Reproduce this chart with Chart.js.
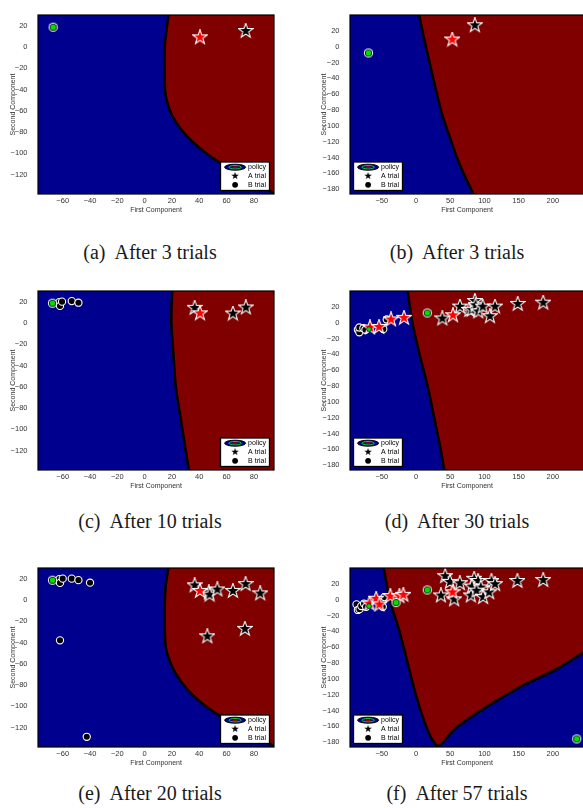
<!DOCTYPE html>
<html lang="en">
<head>
<meta charset="UTF-8">
<meta name="viewport" content="width=device-width, initial-scale=1.0">
<title>Decision regions after A/B trials</title>
<script src="https://cdn.jsdelivr.net/npm/chart.js"></script>
<style>
    body { margin: 0; background: #fff; }
    #fig { position: relative; width: 583px; height: 808px; overflow: hidden; }
    #fig canvas { position: absolute; }
    .cap {
        position: absolute;
        width: 290px;
        text-align: center;
        font-family: "Liberation Serif", "Times New Roman", serif;
        font-size: 20px;
        line-height: 20px;
        color: #1a1a1a;
    }
    .cap span { margin-right: 9px; }
</style>
</head>
<body>
<div id="fig">
    <canvas id="pa" width="290" height="218" style="left:0;top:0"></canvas>
    <canvas id="pb" width="300" height="218" style="left:290px;top:0"></canvas>
    <canvas id="pc" width="290" height="218" style="left:0;top:276px"></canvas>
    <canvas id="pd" width="300" height="218" style="left:290px;top:276px"></canvas>
    <canvas id="pe" width="290" height="218" style="left:0;top:553px"></canvas>
    <canvas id="pf" width="300" height="218" style="left:290px;top:553px"></canvas>
    <div class="cap" style="left:5px;top:242px"><span>(a)</span>After 3 trials</div>
    <div class="cap" style="left:312px;top:242px"><span>(b)</span>After 3 trials</div>
    <div class="cap" style="left:5px;top:511px"><span>(c)</span>After 10 trials</div>
    <div class="cap" style="left:312px;top:511px"><span>(d)</span>After 30 trials</div>
    <div class="cap" style="left:5px;top:783px"><span>(e)</span>After 20 trials</div>
    <div class="cap" style="left:312px;top:783px"><span>(f)</span>After 57 trials</div>
</div>

<script>
    // tick values
    const xTicksNarrow = [-60, -40, -20, 0, 20, 40, 60, 80];
    const yTicksNarrow = [-120, -100, -80, -60, -40, -20, 0, 20];
    const xTicksWide = [-50, 0, 50, 100, 150, 200];
    const yTicksWide = [-180, -160, -140, -120, -100, -80, -60, -40, -20, 0, 20];
    const legendLabels = ['policy', 'A trial', 'B trial'];

    // (a) after 3 trials, first projection
    const aEdge = [[17.8, 33], [16.1, 17.3], [14.6, -1], [14.9, -40.5], [16.6, -52.6], [20.2, -64.7], [26.3, -76.9],
                   [33.6, -87.5], [43.4, -98.2], [53.2, -107.3], [65.3, -116.4], [80, -127], [95, -137.6], [100, -141]];
    const aGreen = [[-67, 18.5]];
    const aRed = [[40.5, 9]];
    const aStars = [[74, 15]];
    const aDots = [];

    // (b) after 3 trials, second projection
    const bEdge = [[4.3, 43], [4.8, 39], [9.7, 18.4], [19.4, -18.4], [29.2, -55.1], [38.8, -87.6], [48.5, -112.1],
                   [58.3, -136.6], [67.9, -157], [83.5, -185.6], [86, -190]];
    const bGreen = [[-69.5, -8]];
    const bRed = [[53, 9]];
    const bStars = [[86, 27]];
    const bDots = [];

    // (c) after 10 trials
    const cEdge = [[20.2, 33], [19.5, 1.5], [21, -28.8], [22.7, -59.1], [26.3, -89.5], [30, -119.7], [32.4, -138.2], [33, -141]];
    const cGreen = [[-67.5, 18.5]];
    const cDots = [[-62.5, 19.5], [-62, 16], [-60.5, 20], [-53.4, 20.5], [-48.5, 19]];
    const cRed = [[40.5, 9]];
    const cStars = [[36.6, 14.2], [64.6, 8.8], [74.1, 14.5]];

    // (d) after 30 trials
    const dEdge = [[-12.8, 43], [-12.2, 39.6], [-5.8, 2], [4.8, -38.9], [16.9, -79.8], [26.7, -120.7], [36.4, -161.6],
                   [41.3, -186], [42.5, -190]];
    const dGreen = [[16.5, 12.2]];
    const dGreenSmall = [[-68.7, -8.2]];
    const dDots = [[-85, -9], [-82.9, -12.2], [-82.9, -6.1], [-77, -7], [-74, -9], [-47.8, -8.2], [-42.8, 4]];
    const dRed = [[-67.3, -6.1], [-54, -5.4], [-36.5, 4], [-17.5, 6.1], [54, 9.3]];
    const dStars = [[38.5, 5.3], [64.3, 20.3], [78, 16], [81.4, 16.3], [86, 27.4], [87, 22], [91, 14.2],
                    [97.5, 20.3], [108, 8.1], [115.5, 20.3], [148.7, 23.7], [186, 25.3]];

    // (e) after 20 trials
    const eEdge = [[17.8, 33], [15.4, 13.7], [14.6, -13.7], [15.4, -44.2], [19, -59.5], [23.9, -71.7], [31.2, -84],
                   [41, -96.2], [50.7, -105.3], [60, -112.5], [70, -120], [82, -128.5], [95, -137.6], [100, -141]];
    const eGreen = [[-67.5, 18.5]];
    const eDots = [[-62.5, 19.5], [-62, 16], [-60, 20], [-53.4, 20], [-48.5, 18.6], [-40, 16.2], [-62, -38], [-42.4, -128.6]];
    const eRed = [[40.5, 8.5]];
    const eStars = [[36.6, 13.7], [47, 7], [47.5, 5], [53.2, 9.8], [64.6, 8.5], [73.9, 14.9], [84.6, 6.1],
                    [45.9, -34.2], [73.4, -27.2]];

    // (f) after 57 trials
    const fLeftEdge = [[-48, 42], [-47.2, 39.9], [-38.9, 1.2], [-24.3, -39.7], [-12.2, -80.4], [0, -121], [12.1, -153.9],
                       [21.9, -174.3], [28, -182], [32, -186], [33, -190]];
    const fRightEdge = [[30, -190], [33, -185], [40, -180], [58.3, -162], [106.9, -133.5], [155.4, -109], [204, -88.6],
                        [242.6, -68.2], [260, -60]];
    const fGreen = [[16.5, 12.2], [-29.2, -3.7], [235, -176]];
    const fGreenSmall = [[-68.7, -8.2]];
    const fDots = [[-87, -6], [-85, -13], [-82.6, -12], [-80, -8], [-76, -5], [-73, -9], [-46.2, 3.2], [-48.6, -9]];
    const fRed = [[-68, -4.9], [-58.3, 1.2], [-53.5, -6.1], [-37.5, 4.4], [-24.3, 4.4], [-18.5, 6.1], [53.4, 9.3]];
    const fStars = [[42.7, 29.7], [49.6, 22.4], [64.1, 20.8], [36.4, 5.3], [55.8, 0.4], [80.2, 5.3], [85, 26.4],
                    [90.8, 23.6], [81.6, 16.6], [94.7, 15.4], [88.4, 11.4], [98.1, 3.2], [106.9, 9.3], [110.3, 23.6],
                    [115.6, 19.6], [148.2, 23.6], [186, 24.8]];

    const BLUE = '#00008f';
    const RED = '#800000';
    const GREEN = '#00e000';
    const SANS = '"Liberation Sans", Arial, sans-serif';

    Chart.defaults.font.family = SANS;

    const pts = arr => arr.map(([x, y]) => ({ x, y }));

    // five-point star marker, pre-rendered
    function starMark(fill, edge, r) {
        const c = document.createElement('canvas');
        const s = Math.ceil(r * 2 + 4);
        c.width = c.height = s;
        const g = c.getContext('2d');
        g.beginPath();
        for (let i = 0; i < 10; i++) {
            const rad = i % 2 ? r * 0.4 : r;
            const ang = -Math.PI / 2 + i * Math.PI / 5;
            g.lineTo(s / 2 + rad * Math.cos(ang), s / 2 + rad * Math.sin(ang));
        }
        g.closePath();
        if (edge) {
            g.strokeStyle = edge;
            g.lineWidth = 2.2;
            g.lineJoin = 'miter';
            g.stroke();
        }
        g.fillStyle = fill;
        g.fill();
        return c;
    }

    // green dot with a dark ring and a white halo
    function ringMark() {
        const c = document.createElement('canvas');
        c.width = c.height = 11;
        const g = c.getContext('2d');
        [[4.6, '#fff'], [3.6, '#000'], [2.8, GREEN]].forEach(([r, col]) => {
            g.beginPath();
            g.arc(5.5, 5.5, r, 0, Math.PI * 2);
            g.fillStyle = col;
            g.fill();
        });
        return c;
    }

    const starRed = starMark('#ff0000', '#fff', 6);
    const starBlack = starMark('#000', '#fff', 6);
    const starKey = starMark('#000', null, 4);
    const greenRing = ringMark();

    // plot background, frame and the in-axes legend
    const panelDecor = {
        id: 'panelDecor',
        beforeDatasetsDraw(chart) {
            const { ctx, chartArea: a } = chart;
            ctx.save();
            ctx.fillStyle = BLUE;
            ctx.fillRect(a.left, a.top, a.width, a.height);
            ctx.restore();
        },
        afterDatasetsDraw(chart, args, opts) {
            const { ctx, chartArea: a } = chart;
            ctx.save();
            ctx.strokeStyle = '#000';
            ctx.lineWidth = 1.2;
            ctx.strokeRect(a.left, a.top, a.width, a.height);

            const w = 49, h = 28.5;
            const x = opts.side === 'left' ? a.left + 3.5 : a.right - 4.5 - w;
            const y = a.bottom - 3.5 - h;
            ctx.fillStyle = '#fff';
            ctx.fillRect(x, y, w, h);
            ctx.lineWidth = 1.3;
            ctx.strokeRect(x, y, w, h);

            const ix = x + 14.6;
            const rows = [y + 5.2, y + 13.9, y + 22.8];
            // policy icon
            ctx.beginPath();
            ctx.ellipse(ix, rows[0], 10.5, 3, 0, 0, Math.PI * 2);
            ctx.fillStyle = '#00008b';
            ctx.fill();
            ctx.lineWidth = 1;
            ctx.stroke();
            ctx.beginPath();
            ctx.ellipse(ix, rows[0], 6.2, 1.7, 0, 0, Math.PI * 2);
            ctx.strokeStyle = '#22dd22';
            ctx.lineWidth = 0.9;
            ctx.stroke();
            ctx.beginPath();
            ctx.ellipse(ix, rows[0], 3, 1, 0, 0, Math.PI * 2);
            ctx.fillStyle = '#a00000';
            ctx.fill();
            // A trial / B trial icons
            ctx.drawImage(starKey, ix - starKey.width / 2, rows[1] - starKey.height / 2);
            ctx.beginPath();
            ctx.arc(ix, rows[2], 2.9, 0, Math.PI * 2);
            ctx.fillStyle = '#000';
            ctx.fill();

            ctx.font = '7px ' + SANS;
            ctx.textBaseline = 'middle';
            ctx.fillStyle = '#000';
            legendLabels.forEach((t, i) => ctx.fillText(t, x + 27.6, rows[i]));
            ctx.restore();
        }
    };

    const narrow = { xMin: -78.1, xMax: 94.7, yMin: -138.2, yMax: 30, xTicks: xTicksNarrow, yTicks: yTicksNarrow,
                     axisWidth: 38, titleGap: 8.5, padRight: 16, side: 'right' };
    const wide = { xMin: -96.5, xMax: 245.6, yMin: -186.2, yMax: 40, xTicks: xTicksWide, yTicks: yTicksWide,
                   axisWidth: 60, titleGap: 30, padRight: 6, side: 'left' };

    const tickLabel = v => String(v).replace('-', '\u2212');

    function axis(min, max, ticks, title, isX, size, gap) {
        return {
            type: 'linear',
            min, max,
            grid: { display: false, drawTicks: false },
            border: { display: false },
            afterBuildTicks: s => { s.ticks = ticks.map(v => ({ value: v })); },
            afterFit: s => { if (isX) s.height = size; else s.width = size; },
            ticks: {
                padding: isX ? 2 : 10.5,
                color: '#333',
                font: { size: 7.5 },
                autoSkip: false,
                maxRotation: 0,
                callback: tickLabel
            },
            title: {
                display: true,
                text: title,
                color: '#333',
                font: { size: 7 },
                padding: isX ? { top: 0, bottom: 0 } : { top: gap, bottom: 0 }
            }
        };
    }

    function drawPanel(id, frame, layers, marks) {
        const datasets = [];
        layers.forEach((l, i) => datasets.push({
            type: 'line',
            data: pts(l.edge),
            indexAxis: l.along,
            fill: { value: l.fillTo },
            backgroundColor: l.color,
            borderColor: '#000',
            borderWidth: 2.6,
            pointRadius: 0,
            tension: 0.25,
            clip: 0,
            order: 10 - i
        }));
        datasets.push({
            type: 'scatter', data: pts(marks.dots || []), order: 4,
            pointStyle: 'circle', pointRadius: 3.6, backgroundColor: '#000', borderColor: '#fff', borderWidth: 1.1
        });
        datasets.push({ type: 'scatter', data: pts(marks.stars || []), order: 3, pointStyle: starBlack, pointRadius: 5 });
        datasets.push({ type: 'scatter', data: pts(marks.red || []), order: 2, pointStyle: starRed, pointRadius: 5 });
        datasets.push({ type: 'scatter', data: pts(marks.green || []), order: 1, pointStyle: greenRing, pointRadius: 5 });
        datasets.push({
            type: 'scatter', data: pts(marks.greenSmall || []), order: 0,
            pointStyle: 'circle', pointRadius: 2.4, backgroundColor: GREEN, borderColor: '#000', borderWidth: 0.6
        });

        new Chart(document.getElementById(id), {
            type: 'scatter',
            data: { datasets },
            plugins: [panelDecor],
            options: {
                responsive: false,
                animation: false,
                devicePixelRatio: 1,
                events: [],
                layout: { autoPadding: false, padding: { top: 9, right: frame.padRight, bottom: 4, left: 0 } },
                scales: {
                    x: axis(frame.xMin, frame.xMax, frame.xTicks, 'First Component', true, 20, 0),
                    y: axis(frame.yMin, frame.yMax, frame.yTicks, 'Second Component', false, frame.axisWidth, frame.titleGap)
                },
                plugins: {
                    legend: { display: false },
                    tooltip: { enabled: false },
                    panelDecor: { side: frame.side }
                }
            }
        });
    }

    drawPanel('pa', narrow, [{ edge: aEdge, along: 'y', fillTo: 1000, color: RED }],
              { dots: aDots, stars: aStars, red: aRed, green: aGreen });
    drawPanel('pb', wide, [{ edge: bEdge, along: 'y', fillTo: 1000, color: RED }],
              { dots: bDots, stars: bStars, red: bRed, green: bGreen });
    drawPanel('pc', narrow, [{ edge: cEdge, along: 'y', fillTo: 1000, color: RED }],
              { dots: cDots, stars: cStars, red: cRed, green: cGreen });
    drawPanel('pd', wide, [{ edge: dEdge, along: 'y', fillTo: 1000, color: RED }],
              { dots: dDots, stars: dStars, red: dRed, green: dGreen, greenSmall: dGreenSmall });
    drawPanel('pe', narrow, [{ edge: eEdge, along: 'y', fillTo: 1000, color: RED }],
              { dots: eDots, stars: eStars, red: eRed, green: eGreen });
    drawPanel('pf', wide, [
                  { edge: fLeftEdge, along: 'y', fillTo: 1000, color: RED },
                  { edge: fRightEdge, along: 'x', fillTo: -1000, color: BLUE }
              ],
              { dots: fDots, stars: fStars, red: fRed, green: fGreen, greenSmall: fGreenSmall });
</script>
</body>
</html>
